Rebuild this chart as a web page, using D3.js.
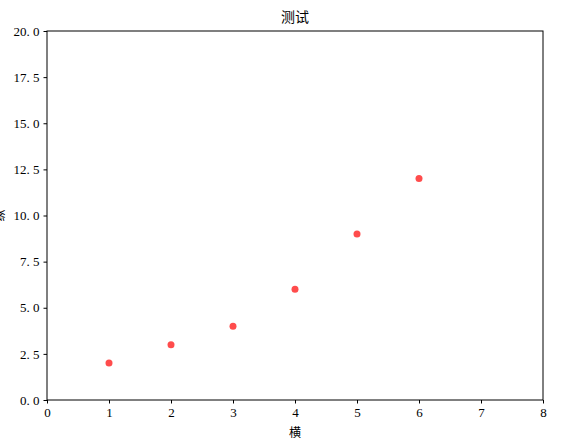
<!DOCTYPE html>
<html>
<head>
<meta charset="utf-8">
<script src="https://cdn.jsdelivr.net/npm/d3@7"></script>
<style>
  body { margin: 0; background: #fff; }
  text { fill: #000; }
</style>
</head>
<body>
<svg id="chart" width="570" height="444"></svg>
<script>
const title = '测试';
const xLabel = '横';
const yLabel = '纵';
const xs = [1, 2, 3, 4, 5, 6];
const ys = [2, 3, 4, 6, 9, 12];
const xTicks = [0, 1, 2, 3, 4, 5, 6, 7, 8];
const yTicks = [0, 2.5, 5, 7.5, 10, 12.5, 15, 17.5, 20];

(function () {
  const svg = d3.select('#chart');
  const left = 47, right = 543, top = 31, bottom = 400;
  const numFont = '"Liberation Serif", "DejaVu Serif", serif';
  const cjkFont = '"Noto Sans CJK SC", sans-serif';

  const x = d3.scaleLinear().domain([0, 8]).range([left, right]);
  const y = d3.scaleLinear().domain([0, 20]).range([bottom, top]);

  // frame
  svg.append('rect')
    .attr('x', left).attr('y', top)
    .attr('width', right - left).attr('height', bottom - top)
    .attr('fill', 'none').attr('stroke', '#000').attr('stroke-width', 1);

  const xAxis = svg.append('g')
    .attr('transform', `translate(0,${bottom})`)
    .call(d3.axisBottom(x).tickValues(xTicks).tickSize(3.5).tickPadding(4).tickFormat(d3.format('d')));
  const yAxis = svg.append('g')
    .attr('transform', `translate(${left},0)`)
    .call(d3.axisLeft(y).tickValues(yTicks).tickSize(3.5).tickPadding(4)
      .tickFormat(d => d.toFixed(1).replace('.', '. ')));

  [xAxis, yAxis].forEach(g => {
    g.select('.domain').remove();
    g.selectAll('text').attr('font-family', numFont).attr('font-size', 13).style('white-space', 'pre');
    g.selectAll('line').attr('stroke', '#000');
  });

  svg.selectAll('circle.pt')
    .data(xs.map((v, i) => [v, ys[i]]))
    .enter().append('circle')
    .attr('class', 'pt')
    .attr('cx', d => x(d[0]))
    .attr('cy', d => y(d[1]))
    .attr('r', 3.5)
    .attr('fill', 'red')
    .attr('fill-opacity', 0.7);

  svg.append('text')
    .attr('x', (left + right) / 2).attr('y', 22)
    .attr('text-anchor', 'middle')
    .attr('font-family', cjkFont).attr('font-size', 14)
    .attr('fill', '#222')
    .text(title);

  svg.append('text')
    .attr('x', (left + right) / 2).attr('y', 437)
    .attr('text-anchor', 'middle')
    .attr('font-family', cjkFont).attr('font-size', 12)
    .text(xLabel);

  svg.append('text')
    .attr('transform', `translate(5,${(top + bottom) / 2}) rotate(-90)`)
    .attr('text-anchor', 'middle')
    .attr('font-family', cjkFont).attr('font-size', 12)
    .text(yLabel);
})();
</script>
</body>
</html>
